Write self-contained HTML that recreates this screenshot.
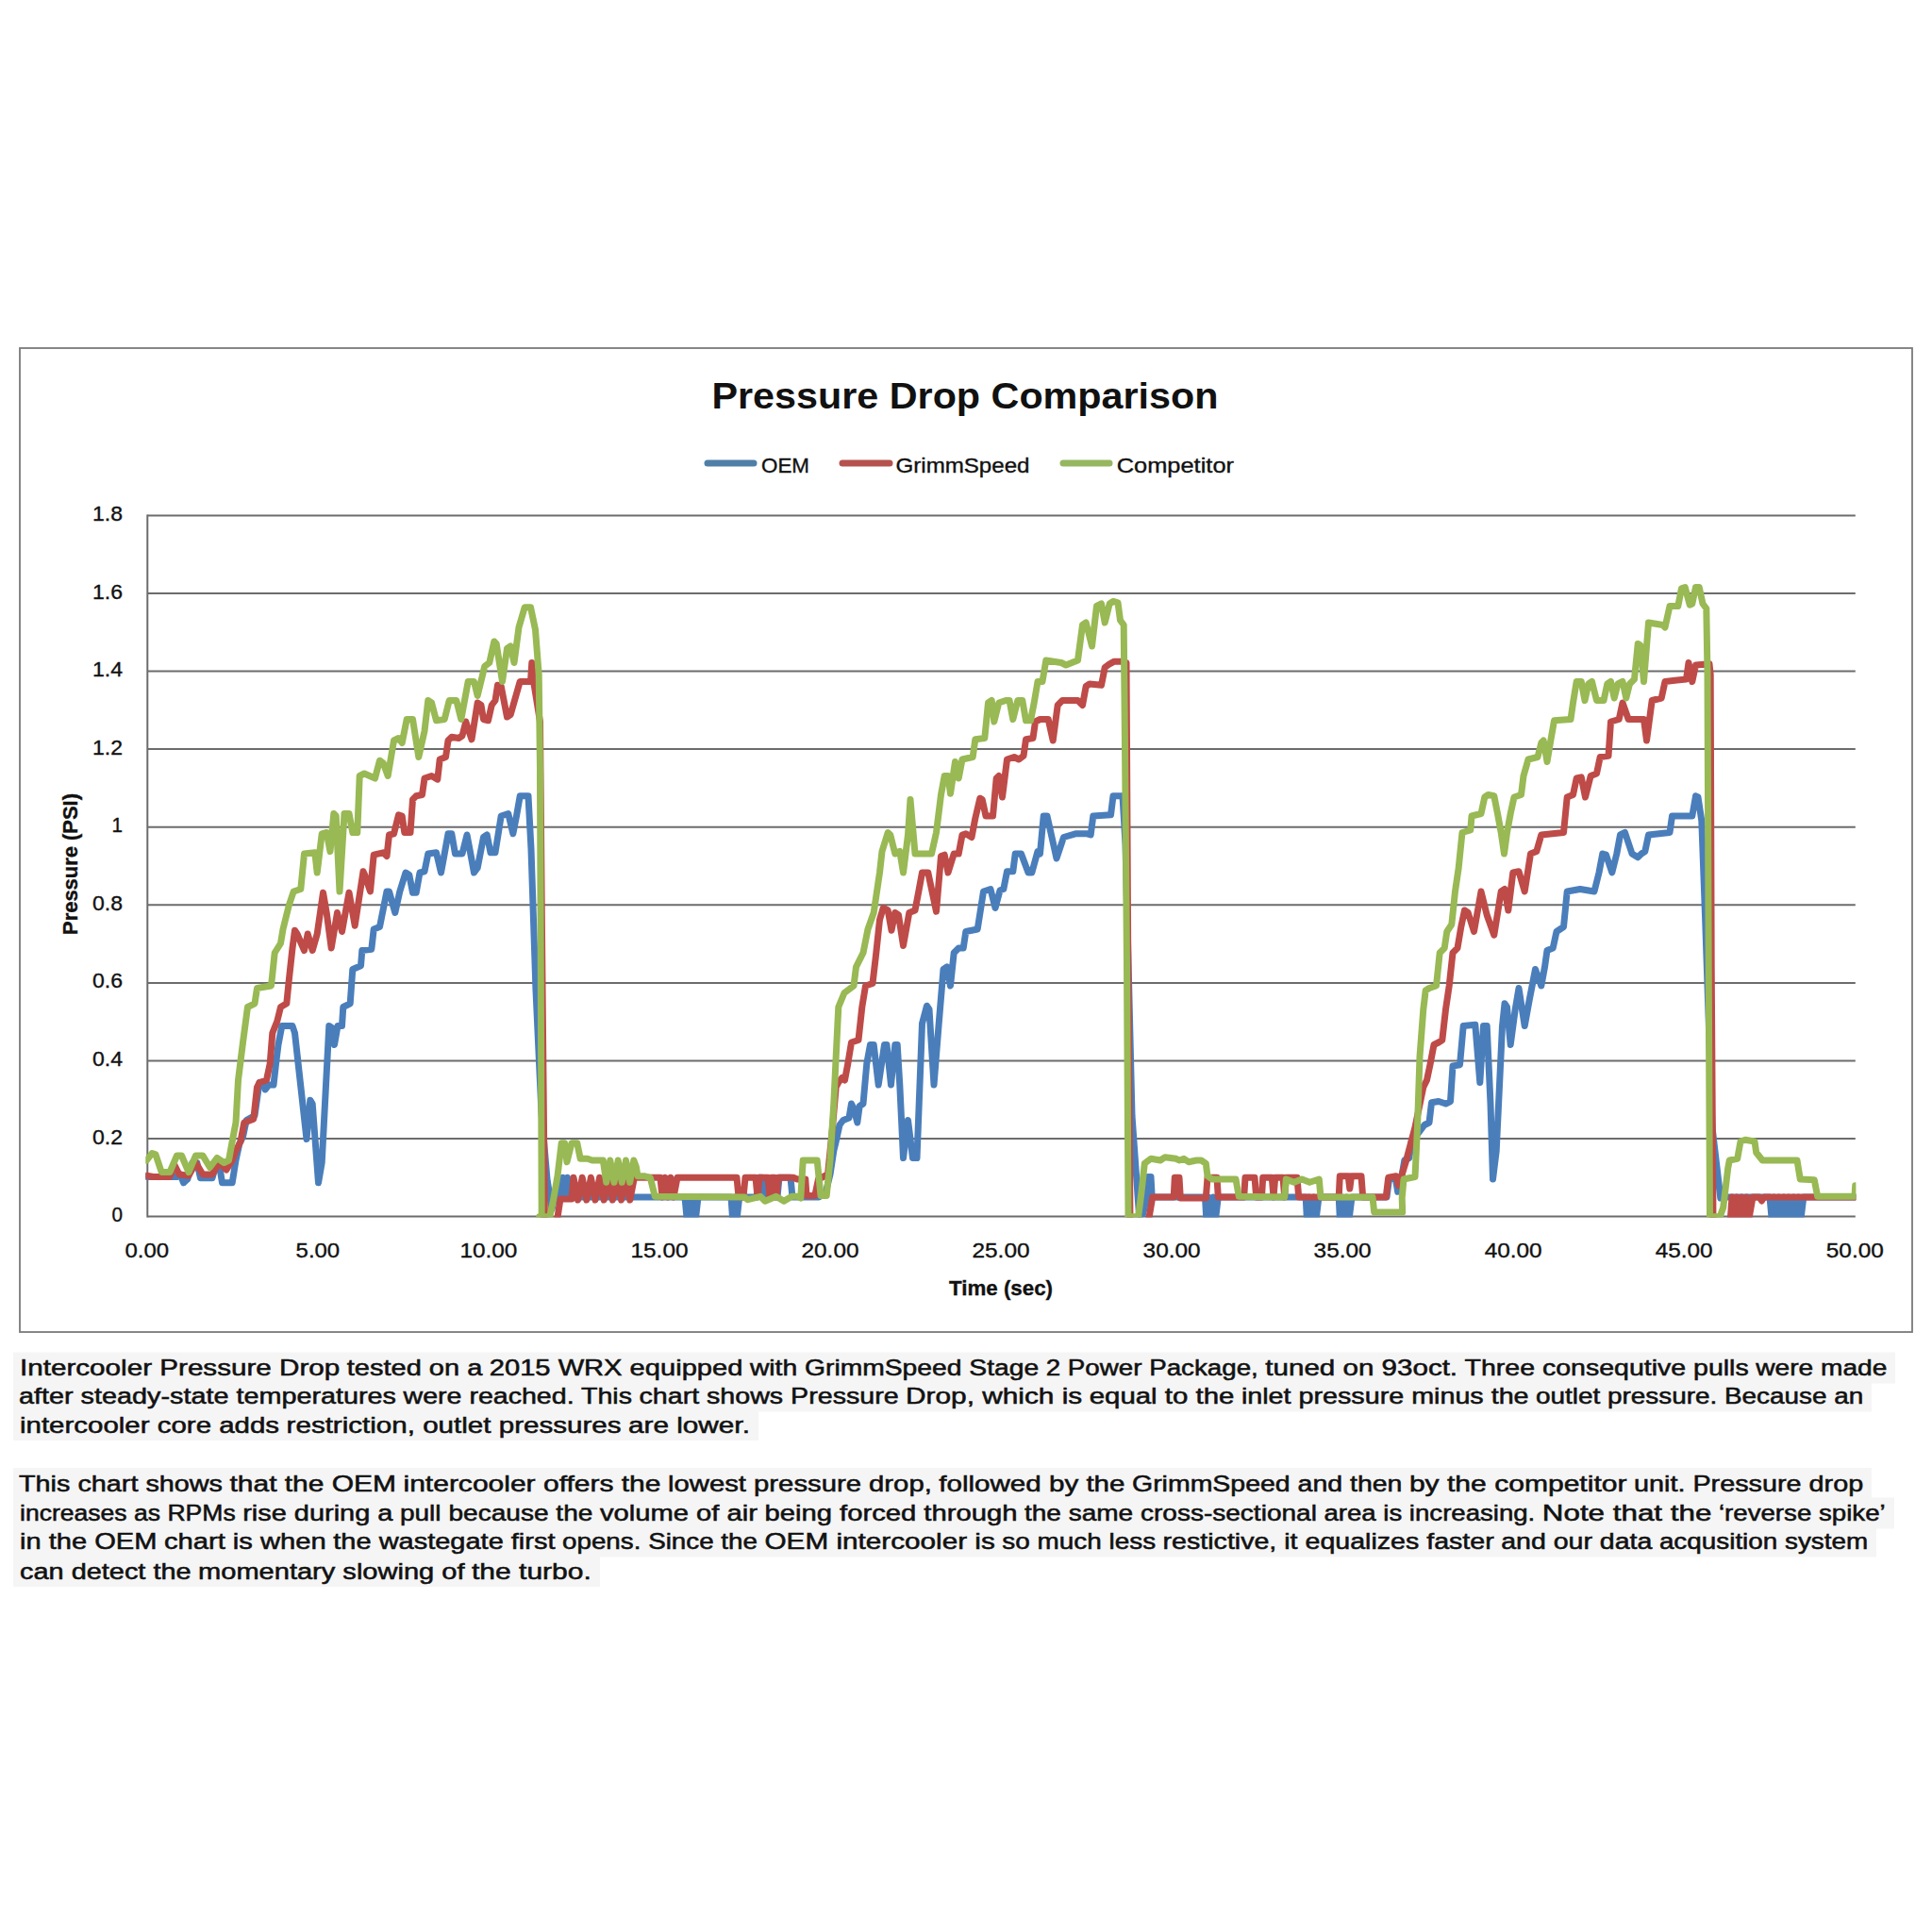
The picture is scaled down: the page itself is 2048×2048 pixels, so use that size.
<!DOCTYPE html>
<html><head><meta charset="utf-8"><title>Pressure Drop Comparison</title>
<style>
html,body{margin:0;padding:0;background:#fff;}
body{width:2048px;height:2048px;overflow:hidden;font-family:"Liberation Sans",sans-serif;}
svg{display:block;}
text{font-family:"Liberation Sans",sans-serif;fill:#111;}
.ax text{font-size:21.5px;stroke:#111;stroke-width:0.35px;}
.body text{font-size:24.3px;fill:#111;stroke:#111;stroke-width:0.55px;}
.s{fill:none;stroke-width:7;stroke-linejoin:round;stroke-linecap:round;}
</style></head><body>
<svg width="2048" height="2048" viewBox="0 0 2048 2048">
<rect x="0" y="0" width="2048" height="2048" fill="#ffffff"/>
<rect x="21" y="369" width="2006" height="1043" fill="#ffffff" stroke="#7a7a7a" stroke-width="1.8"/>
<g stroke="#6c6c6c" stroke-width="2" fill="none">
<line x1="156.3" y1="1289.6" x2="1966.8" y2="1289.6"/>
<line x1="156.3" y1="1207.0" x2="1966.8" y2="1207.0"/>
<line x1="156.3" y1="1124.4" x2="1966.8" y2="1124.4"/>
<line x1="156.3" y1="1041.9" x2="1966.8" y2="1041.9"/>
<line x1="156.3" y1="959.3" x2="1966.8" y2="959.3"/>
<line x1="156.3" y1="876.7" x2="1966.8" y2="876.7"/>
<line x1="156.3" y1="794.1" x2="1966.8" y2="794.1"/>
<line x1="156.3" y1="711.6" x2="1966.8" y2="711.6"/>
<line x1="156.3" y1="629.0" x2="1966.8" y2="629.0"/>
<line x1="156.3" y1="546.4" x2="1966.8" y2="546.4"/>
<line x1="156.3" y1="545.5" x2="156.3" y2="1290.5"/>
</g>

<g clip-path="url(#pc)">
<polyline class="s" stroke="#4a7ebb" points="155.5,1247.5 187.5,1247.5 191.2,1245.0 194.5,1253.8 198.8,1250.0 203.8,1232.5 208.8,1232.5 212.5,1248.8 225.0,1248.8 228.8,1235.0 232.5,1235.0 235.5,1253.8 246.2,1253.8 250.0,1230.0 253.8,1212.5 257.5,1205.0 261.2,1187.5 270.0,1182.5 272.5,1165.0 275.0,1147.5 280.0,1147.5 281.2,1155.0 285.0,1150.0 290.0,1150.0 292.5,1127.5 295.0,1107.5 298.8,1087.5 310.0,1087.5 312.5,1095.0 325.0,1207.5 328.8,1166.2 331.2,1170.0 337.5,1253.8 341.2,1232.5 348.8,1087.5 352.5,1090.0 354.5,1107.5 358.0,1087.5 362.5,1087.5 363.8,1067.5 371.2,1063.8 373.8,1027.5 382.5,1023.8 383.8,1007.5 393.8,1006.2 396.2,985.0 402.5,982.5 410.0,945.0 412.5,945.0 418.8,967.5 423.8,945.0 430.0,925.0 433.8,927.5 437.5,946.2 441.2,946.2 445.0,925.0 450.0,923.8 453.8,905.0 462.5,903.8 467.5,925.0 471.2,905.0 475.0,883.8 478.8,883.8 482.5,905.0 490.0,905.0 495.0,885.0 498.8,905.0 502.5,925.0 506.2,920.0 512.5,887.5 516.2,885.0 520.0,903.8 525.0,903.8 531.2,865.0 538.8,862.5 543.8,883.8 547.5,865.0 551.2,843.8 560.0,843.8 563.0,900.0 568.0,1050.0 574.0,1180.0 580.0,1250.0 585.0,1282.0 588.0,1269.0 590.0,1269.0 592.0,1248.3 594.4,1269.0 596.8,1248.3 599.2,1269.0 601.6,1248.3 604.0,1269.0 608.0,1269.0 726.0,1269.0 728.0,1290.6 730.4,1269.0 732.8,1290.6 735.2,1269.0 737.6,1290.6 740.0,1269.0 744.0,1269.0 775.0,1269.0 776.5,1290.6 778.9,1269.0 781.3,1290.6 783.7,1269.0 787.5,1269.0 802.0,1269.0 804.0,1248.3 808.0,1248.3 810.0,1269.0 824.0,1269.0 826.0,1248.3 838.0,1248.3 840.0,1269.0 868.0,1269.0 875.0,1265.0 880.0,1245.0 883.8,1220.0 886.2,1210.0 890.0,1192.5 893.8,1187.5 900.0,1185.0 902.5,1170.0 905.0,1175.0 908.8,1190.0 911.2,1172.5 915.0,1170.0 918.8,1127.5 922.5,1107.5 926.2,1107.5 931.2,1150.0 937.5,1107.5 940.0,1107.5 944.5,1150.0 948.8,1107.5 951.2,1107.5 953.8,1150.0 957.5,1227.5 962.5,1187.5 967.5,1227.5 972.0,1227.5 977.5,1085.0 982.5,1066.2 985.0,1070.0 990.0,1150.0 995.0,1087.5 1000.0,1027.5 1003.8,1025.0 1007.5,1045.0 1011.2,1010.0 1016.2,1005.0 1021.2,1005.0 1023.8,987.5 1036.2,985.0 1042.5,945.0 1050.0,942.5 1055.0,962.5 1060.0,943.8 1063.8,942.5 1067.5,923.8 1073.8,923.8 1076.2,905.0 1082.5,905.0 1090.0,925.0 1093.8,925.0 1100.0,902.5 1102.5,905.0 1106.2,865.0 1110.0,865.0 1115.0,887.5 1120.0,910.0 1127.5,887.5 1140.0,883.8 1152.5,883.8 1156.2,885.0 1158.8,865.0 1177.5,863.8 1180.0,843.8 1190.0,843.8 1193.0,895.0 1200.0,1182.5 1207.5,1287.5 1211.7,1286.7 1215.8,1268.3 1217.0,1247.5 1220.0,1247.5 1221.2,1269.0 1277.5,1269.0 1278.7,1290.7 1281.2,1269.0 1283.7,1290.7 1286.2,1269.0 1288.7,1290.7 1291.3,1269.0 1384.2,1269.0 1385.3,1290.7 1387.8,1269.0 1390.3,1290.7 1392.8,1269.0 1395.3,1290.7 1398.0,1269.0 1419.2,1269.0 1420.3,1290.7 1422.8,1269.0 1425.3,1290.7 1427.8,1269.0 1430.3,1290.7 1433.0,1269.0 1470.0,1269.0 1472.5,1250.0 1479.2,1248.3 1481.7,1263.3 1482.5,1260.0 1486.2,1245.0 1488.8,1230.0 1493.8,1227.5 1496.2,1210.0 1502.5,1202.5 1510.0,1192.5 1515.0,1190.0 1517.5,1168.8 1525.0,1167.5 1532.5,1170.0 1537.5,1167.5 1540.0,1130.0 1547.5,1128.8 1551.2,1087.5 1563.8,1086.2 1568.8,1147.5 1572.5,1087.5 1576.2,1087.5 1580.0,1170.0 1582.5,1250.0 1586.2,1220.0 1592.5,1087.5 1595.0,1063.8 1597.5,1067.5 1601.2,1107.5 1606.2,1070.0 1610.0,1047.5 1616.2,1087.5 1621.2,1060.0 1627.5,1027.5 1633.8,1045.0 1637.5,1025.0 1640.0,1007.5 1646.2,1005.0 1650.0,987.5 1657.5,982.5 1661.2,945.0 1675.0,942.5 1690.0,945.0 1695.0,925.0 1698.8,905.0 1702.5,906.2 1708.8,925.0 1713.8,905.0 1717.5,885.0 1722.5,882.5 1730.0,905.0 1736.2,908.8 1740.0,905.0 1743.8,902.5 1747.5,885.0 1770.0,882.5 1772.5,865.0 1793.8,865.0 1797.5,843.8 1800.0,845.0 1803.8,870.0 1807.5,970.0 1815.0,1195.0 1823.8,1270.0 1826.0,1269.0 1876.0,1269.0 1878.0,1290.6 1880.6,1269.0 1883.2,1290.6 1885.8,1269.0 1888.4,1290.6 1891.0,1269.0 1893.6,1290.6 1896.2,1269.0 1898.8,1290.6 1901.4,1269.0 1904.0,1290.6 1906.6,1269.0 1909.2,1290.6 1911.8,1269.0 1914.0,1269.0 1966.8,1269.0"/>
<polyline class="s" stroke="#be4b48" points="155.5,1246.2 162.5,1247.5 180.0,1247.5 185.0,1235.0 190.0,1245.0 200.0,1246.2 207.5,1232.5 215.0,1245.0 225.0,1245.0 232.5,1232.5 240.0,1240.0 246.2,1230.0 250.0,1220.0 255.0,1210.0 258.8,1190.0 268.8,1186.2 272.5,1152.5 275.0,1147.5 282.5,1145.0 286.2,1127.5 288.8,1095.0 293.8,1082.5 297.5,1067.5 303.8,1063.8 306.2,1040.0 310.0,1005.0 312.5,986.2 315.0,990.0 322.5,1007.5 326.2,990.0 331.2,1007.5 336.2,990.0 342.5,946.2 346.2,967.5 351.2,1005.0 357.5,967.5 362.5,987.5 370.0,946.2 376.2,981.2 385.0,923.8 386.2,926.2 392.5,945.0 396.2,906.2 406.2,903.8 410.0,907.5 412.5,885.0 417.5,883.8 422.5,863.8 426.2,865.0 428.8,882.5 435.0,882.5 437.5,847.5 441.2,843.8 447.5,842.5 450.0,825.0 457.5,822.5 463.8,826.2 466.2,805.0 472.5,802.5 475.0,785.0 478.8,781.2 486.2,782.5 490.0,780.0 493.8,765.0 500.0,783.8 506.2,745.0 510.0,747.5 512.5,762.5 517.5,763.8 521.2,747.5 525.0,742.5 527.5,726.2 531.2,727.5 537.5,760.0 541.2,757.5 546.2,740.0 551.2,722.5 562.5,722.5 563.8,702.5 566.0,725.0 572.5,765.0 574.8,1023.0 577.5,1297.0 590.0,1297.0 594.0,1271.0 606.0,1271.0 608.0,1248.3 612.6,1272.0 617.2,1248.3 621.8,1272.0 626.4,1248.3 631.0,1272.0 635.6,1248.3 640.2,1272.0 644.8,1248.3 649.4,1272.0 654.0,1248.3 658.6,1272.0 663.2,1248.3 667.8,1272.0 672.4,1248.3 678.0,1248.3 700.0,1248.3 702.0,1269.0 705.0,1248.3 708.0,1269.0 711.0,1248.3 714.0,1269.0 718.0,1248.3 781.0,1248.3 783.0,1269.0 788.0,1269.0 790.0,1248.3 801.0,1248.3 803.0,1269.0 805.0,1248.3 814.0,1248.3 816.0,1269.0 818.0,1248.3 821.0,1248.3 823.0,1269.0 825.0,1248.3 841.0,1248.3 845.0,1250.0 853.8,1250.0 855.0,1267.5 863.8,1267.5 867.5,1250.0 877.5,1245.0 882.5,1195.0 886.2,1152.5 888.8,1147.5 892.5,1142.5 895.5,1145.0 898.8,1127.5 902.5,1105.0 910.0,1102.5 913.8,1067.5 917.5,1045.0 925.0,1042.5 928.8,1010.0 932.5,975.0 936.2,962.5 941.2,965.0 945.0,986.2 948.8,967.5 952.5,970.0 957.5,1002.5 963.8,967.5 970.0,965.0 973.8,945.0 977.5,925.0 983.8,925.0 992.5,966.2 997.5,907.5 1001.2,906.2 1005.0,925.0 1011.2,905.0 1016.2,905.0 1020.0,885.0 1023.8,883.8 1030.0,887.5 1033.8,867.5 1038.8,846.2 1041.2,847.5 1045.0,865.0 1052.5,865.0 1056.2,825.0 1058.8,822.5 1062.5,845.0 1067.5,805.0 1075.0,802.5 1080.0,805.0 1085.0,801.2 1087.5,783.8 1095.0,782.5 1097.5,765.0 1102.5,762.5 1111.2,762.5 1116.2,785.0 1121.2,747.5 1126.2,742.5 1142.5,742.5 1147.5,747.5 1151.2,727.5 1155.0,725.0 1167.5,726.2 1171.2,707.5 1176.2,703.8 1181.2,701.2 1190.0,701.2 1194.0,702.5 1195.8,1023.0 1198.0,1297.0 1217.0,1297.0 1221.7,1269.0 1244.2,1269.0 1245.3,1248.3 1250.0,1248.3 1251.3,1270.0 1278.3,1270.0 1280.0,1248.3 1290.0,1248.3 1291.3,1269.0 1318.7,1269.0 1320.0,1248.3 1330.0,1248.3 1331.7,1269.0 1337.5,1269.0 1338.7,1248.3 1348.3,1248.3 1350.0,1269.0 1351.7,1248.3 1360.0,1248.3 1361.7,1269.0 1363.3,1248.3 1375.0,1248.3 1376.7,1269.0 1419.2,1269.0 1420.3,1246.7 1429.2,1246.7 1430.8,1260.0 1432.5,1246.7 1443.0,1246.7 1444.7,1269.0 1469.2,1269.0 1471.7,1248.3 1480.0,1246.7 1482.5,1256.7 1490.0,1232.5 1500.0,1195.0 1508.8,1152.5 1512.5,1145.0 1516.2,1127.5 1520.0,1107.5 1525.0,1105.0 1528.8,1102.5 1532.5,1070.0 1536.2,1045.0 1540.0,1010.0 1545.0,1005.0 1548.8,982.5 1552.5,965.0 1556.2,967.5 1562.5,987.5 1570.0,945.0 1576.2,970.0 1583.8,991.2 1591.2,945.0 1595.0,942.5 1598.8,965.0 1603.8,925.0 1610.0,923.8 1616.2,945.0 1622.5,905.0 1628.8,902.5 1633.8,885.0 1657.5,882.5 1661.2,845.0 1667.5,842.5 1671.2,825.0 1676.2,823.8 1680.5,845.0 1686.2,822.5 1692.5,820.0 1696.2,802.5 1705.0,801.2 1707.5,765.0 1716.2,762.5 1720.0,745.0 1726.2,762.5 1742.5,762.5 1745.5,785.0 1751.2,742.5 1761.2,740.0 1765.0,722.5 1787.5,720.0 1790.0,702.5 1793.8,722.5 1797.5,705.0 1812.0,703.8 1813.2,715.0 1814.2,1023.0 1816.0,1297.0 1834.0,1297.0 1836.0,1269.0 1838.6,1290.6 1841.2,1269.0 1843.8,1290.6 1846.4,1269.0 1849.0,1290.6 1851.6,1269.0 1854.2,1290.6 1858.0,1269.0 1865.0,1269.0 1867.5,1273.0 1870.0,1269.0 1966.8,1269.0"/>
<polyline class="s" stroke="#98b954" points="155.5,1230.0 161.2,1222.5 165.0,1223.8 171.2,1242.5 180.0,1242.5 187.5,1225.0 192.5,1225.0 200.0,1242.5 207.5,1225.0 215.0,1225.0 222.5,1237.5 230.0,1227.5 237.5,1232.5 242.5,1230.0 246.2,1210.0 250.0,1190.0 252.5,1145.0 257.5,1105.0 262.5,1067.5 270.0,1063.8 272.5,1047.5 287.5,1045.0 291.2,1010.0 297.5,1000.0 300.0,985.0 306.2,960.0 311.2,945.0 318.8,942.5 322.5,905.0 333.8,903.8 336.2,925.0 341.2,883.8 346.2,882.5 350.0,902.5 353.8,862.5 356.2,865.0 360.0,945.0 365.0,862.5 370.0,862.5 373.8,882.5 378.8,882.5 381.2,822.5 386.2,820.0 397.5,825.0 402.5,806.2 406.2,808.8 411.2,822.5 417.5,785.0 422.5,782.5 426.2,787.5 431.2,762.5 437.5,762.5 443.8,802.5 450.0,775.0 453.8,742.5 457.5,745.0 462.5,763.8 471.2,762.5 476.2,742.5 483.8,742.5 488.8,762.5 496.2,722.5 502.5,722.5 506.2,737.5 513.8,706.2 518.8,702.5 523.8,680.0 526.2,682.5 532.5,722.5 537.5,687.5 541.2,685.0 545.0,702.5 550.0,665.0 556.2,643.8 562.5,643.8 567.5,667.5 571.2,715.0 572.5,815.0 574.2,1289.5 571.8,1289.7 582.7,1289.7 586.0,1275.0 591.0,1246.7 595.2,1211.7 598.5,1211.7 601.0,1231.7 606.0,1211.7 611.8,1211.7 615.2,1228.3 622.7,1228.3 627.7,1230.0 639.3,1230.0 642.7,1253.3 646.8,1230.0 651.0,1253.3 655.2,1230.0 659.3,1253.3 663.5,1230.0 667.7,1253.3 671.8,1230.0 674.3,1236.7 676.0,1246.7 682.7,1246.7 689.3,1248.3 694.3,1268.3 789.3,1269.0 792.7,1271.7 806.0,1268.3 811.0,1273.3 822.7,1268.3 831.0,1273.3 839.3,1268.3 846.0,1268.3 848.8,1270.0 851.2,1230.0 866.2,1230.0 870.0,1267.5 876.2,1267.5 880.0,1230.0 883.8,1170.0 886.2,1120.0 888.8,1067.5 895.0,1052.5 905.0,1045.0 907.5,1025.0 915.0,1010.0 920.0,985.0 926.2,967.5 932.5,925.0 935.0,902.5 941.2,882.5 943.8,885.0 948.8,905.0 953.8,902.5 957.5,925.0 962.5,885.0 965.0,847.5 970.0,905.0 987.5,905.0 992.5,882.5 997.5,842.5 1001.2,822.5 1005.0,822.5 1007.5,841.2 1012.5,807.5 1016.2,825.0 1020.0,805.0 1031.2,802.5 1033.8,783.8 1043.8,782.5 1047.5,745.0 1051.2,742.5 1053.8,765.0 1058.8,745.0 1066.2,742.5 1070.0,742.5 1073.8,762.5 1078.8,742.5 1083.8,742.5 1087.5,763.8 1092.5,763.8 1096.2,745.0 1100.0,722.5 1105.0,722.5 1108.8,700.0 1125.0,702.5 1130.0,705.0 1142.5,700.0 1147.5,662.5 1151.2,660.0 1157.5,685.0 1162.5,642.5 1167.5,640.0 1171.2,660.0 1176.2,640.0 1180.0,637.5 1185.0,638.8 1187.5,657.5 1191.2,662.5 1192.5,790.0 1194.5,1023.0 1196.0,1289.6 1195.8,1289.7 1206.7,1289.7 1210.0,1263.3 1213.3,1233.3 1220.0,1228.3 1230.0,1230.0 1235.0,1226.7 1246.7,1228.3 1250.0,1230.0 1255.0,1228.3 1260.0,1231.7 1268.3,1230.0 1273.3,1230.0 1278.3,1233.3 1280.0,1246.7 1285.0,1250.0 1310.0,1250.0 1313.3,1268.3 1361.7,1269.0 1363.3,1250.0 1371.7,1253.3 1380.0,1250.0 1388.3,1253.3 1398.3,1250.0 1400.0,1269.0 1455.0,1269.0 1456.7,1285.0 1486.7,1285.0 1486.2,1270.0 1488.0,1250.0 1500.0,1247.5 1502.5,1195.0 1505.0,1120.0 1508.8,1070.0 1511.2,1050.0 1515.0,1047.5 1522.5,1045.0 1526.2,1010.0 1531.2,1005.0 1533.8,987.5 1538.8,980.0 1542.5,945.0 1546.2,920.0 1550.0,882.5 1558.8,880.0 1560.0,865.0 1570.0,862.5 1573.8,845.0 1577.5,842.5 1583.8,843.8 1587.5,862.5 1591.2,882.5 1594.5,905.0 1597.5,882.5 1601.2,862.5 1605.0,845.0 1612.5,842.5 1615.0,822.5 1620.0,805.0 1630.0,802.5 1633.8,787.5 1636.2,785.0 1640.0,807.5 1643.8,785.0 1647.5,763.8 1665.0,762.5 1667.5,745.0 1671.2,722.5 1676.2,722.5 1680.0,742.5 1683.8,725.0 1687.5,722.5 1692.5,742.5 1700.0,742.5 1703.8,725.0 1707.5,722.5 1711.2,740.0 1715.0,725.0 1720.0,722.5 1723.8,740.0 1727.5,725.0 1732.5,720.0 1736.2,682.5 1738.8,683.8 1742.5,722.5 1747.5,660.0 1762.5,662.5 1765.0,665.0 1770.0,642.5 1778.8,642.5 1782.5,623.8 1786.2,622.5 1791.2,641.2 1793.8,640.0 1797.5,622.5 1801.2,622.5 1805.0,640.0 1808.8,645.0 1810.0,715.0 1811.2,1023.0 1812.5,1289.6 1812.5,1289.7 1823.3,1289.7 1826.7,1280.0 1831.7,1238.3 1833.3,1230.0 1841.7,1228.3 1845.0,1210.0 1850.0,1208.3 1860.0,1210.0 1861.7,1221.7 1868.3,1230.0 1905.0,1230.0 1908.3,1250.0 1923.3,1250.8 1926.7,1268.3 1966.0,1268.3 1966.7,1256.7"/>
</g>
<defs><clipPath id="pc"><rect x="154.3" y="541.4" width="1813.1" height="749.1"/></clipPath></defs>

<text x="754.5" y="432.6" font-size="39.5" font-weight="bold" textLength="537" lengthAdjust="spacingAndGlyphs" fill="#0a0a0a">Pressure Drop Comparison</text>
<g stroke-width="7" stroke-linecap="round" fill="none">
<line x1="750" y1="491" x2="799" y2="491" stroke="#4f7fa6"/>
<line x1="893" y1="491" x2="943" y2="491" stroke="#b5524f"/>
<line x1="1127" y1="491" x2="1176" y2="491" stroke="#96b760"/>
</g>
<g class="ax">
<text x="807" y="501" font-size="24" textLength="51" lengthAdjust="spacingAndGlyphs">OEM</text>
<text x="949.5" y="501" font-size="24" textLength="142" lengthAdjust="spacingAndGlyphs">GrimmSpeed</text>
<text x="1183.7" y="501" font-size="24" textLength="124.3" lengthAdjust="spacingAndGlyphs">Competitor</text>
<text x="130" y="1295.1" text-anchor="end" textLength="11.5" lengthAdjust="spacingAndGlyphs">0</text>
<text x="130" y="1212.5" text-anchor="end" textLength="32" lengthAdjust="spacingAndGlyphs">0.2</text>
<text x="130" y="1129.9" text-anchor="end" textLength="32" lengthAdjust="spacingAndGlyphs">0.4</text>
<text x="130" y="1047.4" text-anchor="end" textLength="32" lengthAdjust="spacingAndGlyphs">0.6</text>
<text x="130" y="964.8" text-anchor="end" textLength="32" lengthAdjust="spacingAndGlyphs">0.8</text>
<text x="130" y="882.2" text-anchor="end" textLength="11.5" lengthAdjust="spacingAndGlyphs">1</text>
<text x="130" y="799.6" text-anchor="end" textLength="32" lengthAdjust="spacingAndGlyphs">1.2</text>
<text x="130" y="717.1" text-anchor="end" textLength="32" lengthAdjust="spacingAndGlyphs">1.4</text>
<text x="130" y="634.5" text-anchor="end" textLength="32" lengthAdjust="spacingAndGlyphs">1.6</text>
<text x="130" y="551.9" text-anchor="end" textLength="32" lengthAdjust="spacingAndGlyphs">1.8</text>
<text x="155.8" y="1333" text-anchor="middle" textLength="46.6" lengthAdjust="spacingAndGlyphs">0.00</text>
<text x="336.9" y="1333" text-anchor="middle" textLength="46.6" lengthAdjust="spacingAndGlyphs">5.00</text>
<text x="517.9" y="1333" text-anchor="middle" textLength="61" lengthAdjust="spacingAndGlyphs">10.00</text>
<text x="699.0" y="1333" text-anchor="middle" textLength="61" lengthAdjust="spacingAndGlyphs">15.00</text>
<text x="880.0" y="1333" text-anchor="middle" textLength="61" lengthAdjust="spacingAndGlyphs">20.00</text>
<text x="1061.0" y="1333" text-anchor="middle" textLength="61" lengthAdjust="spacingAndGlyphs">25.00</text>
<text x="1242.1" y="1333" text-anchor="middle" textLength="61" lengthAdjust="spacingAndGlyphs">30.00</text>
<text x="1423.1" y="1333" text-anchor="middle" textLength="61" lengthAdjust="spacingAndGlyphs">35.00</text>
<text x="1604.2" y="1333" text-anchor="middle" textLength="61" lengthAdjust="spacingAndGlyphs">40.00</text>
<text x="1785.2" y="1333" text-anchor="middle" textLength="61" lengthAdjust="spacingAndGlyphs">45.00</text>
<text x="1966.3" y="1333" text-anchor="middle" textLength="61" lengthAdjust="spacingAndGlyphs">50.00</text>

<text x="1061" y="1373" font-size="23" font-weight="bold" text-anchor="middle" textLength="110" lengthAdjust="spacingAndGlyphs">Time (sec)</text>
<text transform="translate(82,916) rotate(-90)" font-size="22.5" font-weight="bold" text-anchor="middle" textLength="150" lengthAdjust="spacingAndGlyphs">Pressure (PSI)</text>
</g>
<g class="body">
<rect x="14" y="1433.5" width="1995" height="33" fill="#f5f5f5"/>
<rect x="14" y="1463.5" width="1970" height="33" fill="#f5f5f5"/>
<rect x="14" y="1494.0" width="790" height="33" fill="#f5f5f5"/>
<rect x="14" y="1556.0" width="1970" height="33" fill="#f5f5f5"/>
<rect x="14" y="1587.5" width="1994" height="33" fill="#f5f5f5"/>
<rect x="14" y="1617.5" width="1975" height="33" fill="#f5f5f5"/>
<rect x="14" y="1649.1" width="622" height="33" fill="#f5f5f5"/>
<g><text x="21.0" y="1458.0" textLength="339.3" lengthAdjust="spacingAndGlyphs">Intercooler Pressure Drop</text><text x="367.8" y="1458.0" textLength="143.5" lengthAdjust="spacingAndGlyphs">tested on a</text><text x="518.8" y="1458.0" textLength="268.6" lengthAdjust="spacingAndGlyphs">2015 WRX equipped</text><text x="794.9" y="1458.0" textLength="306.3" lengthAdjust="spacingAndGlyphs">with GrimmSpeed Stage</text><text x="1108.7" y="1458.0" textLength="225.1" lengthAdjust="spacingAndGlyphs">2 Power Package,</text><text x="1341.3" y="1458.0" textLength="203.8" lengthAdjust="spacingAndGlyphs">tuned on 93oct.</text><text x="1552.6" y="1458.0" textLength="301.1" lengthAdjust="spacingAndGlyphs">Three consequtive pulls</text><text x="1861.2" y="1458.0" textLength="139.2" lengthAdjust="spacingAndGlyphs">were made</text></g>
<g><text x="20.0" y="1488.0" textLength="400.0" lengthAdjust="spacingAndGlyphs">after steady-state temperatures</text><text x="427.5" y="1488.0" textLength="242.5" lengthAdjust="spacingAndGlyphs">were reached. This</text><text x="677.5" y="1488.0" textLength="275.1" lengthAdjust="spacingAndGlyphs">chart shows Pressure</text><text x="960.1" y="1488.0" textLength="187.1" lengthAdjust="spacingAndGlyphs">Drop, which is</text><text x="1154.7" y="1488.0" textLength="153.7" lengthAdjust="spacingAndGlyphs">equal to the</text><text x="1315.9" y="1488.0" textLength="304.7" lengthAdjust="spacingAndGlyphs">inlet pressure minus the</text><text x="1628.1" y="1488.0" textLength="347.1" lengthAdjust="spacingAndGlyphs">outlet pressure. Because an</text></g>
<g><text x="21.0" y="1518.5" textLength="275.1" lengthAdjust="spacingAndGlyphs">intercooler core adds</text><text x="303.6" y="1518.5" textLength="354.9" lengthAdjust="spacingAndGlyphs">restriction, outlet pressures</text><text x="666.0" y="1518.5" textLength="128.9" lengthAdjust="spacingAndGlyphs">are lower.</text></g>
<g><text x="20.0" y="1580.5" textLength="216.0" lengthAdjust="spacingAndGlyphs">This chart shows</text><text x="243.5" y="1580.5" textLength="176.5" lengthAdjust="spacingAndGlyphs">that the OEM</text><text x="427.5" y="1580.5" textLength="273.0" lengthAdjust="spacingAndGlyphs">intercooler offers the</text><text x="708.0" y="1580.5" textLength="279.8" lengthAdjust="spacingAndGlyphs">lowest pressure drop,</text><text x="995.3" y="1580.5" textLength="197.2" lengthAdjust="spacingAndGlyphs">followed by the</text><text x="1200.0" y="1580.5" textLength="286.4" lengthAdjust="spacingAndGlyphs">GrimmSpeed and then</text><text x="1493.9" y="1580.5" textLength="230.6" lengthAdjust="spacingAndGlyphs">by the competitor</text><text x="1732.0" y="1580.5" textLength="243.2" lengthAdjust="spacingAndGlyphs">unit. Pressure drop</text></g>
<g><text x="21.0" y="1612.0" textLength="228.7" lengthAdjust="spacingAndGlyphs">increases as RPMs</text><text x="257.2" y="1612.0" textLength="159.2" lengthAdjust="spacingAndGlyphs">rise during a</text><text x="423.9" y="1612.0" textLength="204.5" lengthAdjust="spacingAndGlyphs">pull because the</text><text x="635.9" y="1612.0" textLength="167.1" lengthAdjust="spacingAndGlyphs">volume of air</text><text x="810.5" y="1612.0" textLength="267.9" lengthAdjust="spacingAndGlyphs">being forced through</text><text x="1085.9" y="1612.0" textLength="310.0" lengthAdjust="spacingAndGlyphs">the same cross-sectional</text><text x="1403.4" y="1612.0" textLength="223.9" lengthAdjust="spacingAndGlyphs">area is increasing.</text><text x="1634.8" y="1612.0" textLength="179.6" lengthAdjust="spacingAndGlyphs">Note that the</text><text x="1821.9" y="1612.0" textLength="176.8" lengthAdjust="spacingAndGlyphs">‘reverse spike’</text></g>
<g><text x="21.0" y="1642.0" textLength="145.4" lengthAdjust="spacingAndGlyphs">in the OEM</text><text x="173.9" y="1642.0" textLength="171.9" lengthAdjust="spacingAndGlyphs">chart is when</text><text x="353.3" y="1642.0" textLength="235.2" lengthAdjust="spacingAndGlyphs">the wastegate first</text><text x="596.0" y="1642.0" textLength="207.0" lengthAdjust="spacingAndGlyphs">opens. Since the</text><text x="810.5" y="1642.0" textLength="244.3" lengthAdjust="spacingAndGlyphs">OEM intercooler is</text><text x="1062.3" y="1642.0" textLength="162.8" lengthAdjust="spacingAndGlyphs">so much less</text><text x="1232.6" y="1642.0" textLength="351.1" lengthAdjust="spacingAndGlyphs">restictive, it equalizes faster</text><text x="1591.2" y="1642.0" textLength="160.2" lengthAdjust="spacingAndGlyphs">and our data</text><text x="1758.9" y="1642.0" textLength="221.3" lengthAdjust="spacingAndGlyphs">acqusition system</text></g>
<g><text x="21.0" y="1673.6" textLength="181.6" lengthAdjust="spacingAndGlyphs">can detect the</text><text x="210.1" y="1673.6" textLength="282.4" lengthAdjust="spacingAndGlyphs">momentary slowing of</text><text x="500.0" y="1673.6" textLength="126.8" lengthAdjust="spacingAndGlyphs">the turbo.</text></g>
</g>
</svg>
</body></html>
